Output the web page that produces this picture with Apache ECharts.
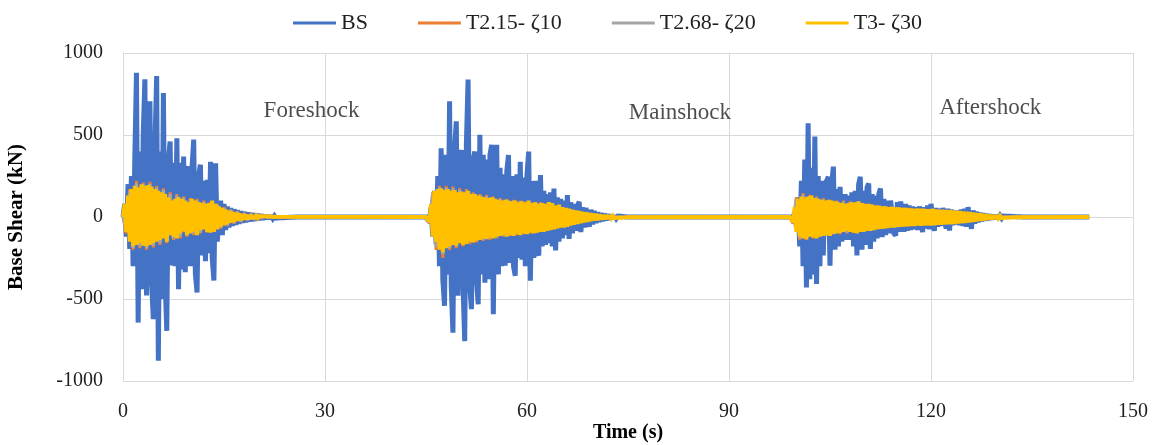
<!DOCTYPE html>
<html><head><meta charset="utf-8">
<script src="https://cdn.jsdelivr.net/npm/echarts@6/dist/echarts.min.js"></script>
<style>html,body{margin:0;padding:0;background:#fff}#c{width:1159px;height:445px}</style>
</head><body><div id="c"></div>
<script>
// ---- data (kN), sampled in time segments ----
const seriesNames = ['BS', 'T2.15- ζ10', 'T2.68- ζ20', 'T3- ζ30'];
const segStart = [0, 45, 99];      // s, start of foreshock / mainshock / aftershock records
const endTime = 143.5;             // s, end of record
const dtFine = 0.25;               // s, BS and T3 sampling
const dtCoarse = 0.5;              // s, T2.15 and T2.68 sampling

const bsFore = [0,80,-120,200,-194,250,-300,350, 879,-644,400,-440,500,840,-479,450,
  705,-400,-623,450,859,-877,400,-500, 756,-380,-694,350,460,-296,330,-300,
  480,-440,330,-320,368,-337,280,307, -300,300,472,-350,-460,260,319,-235,
  220,-270,227,-220,337,-250,-387,327, -150,-160,100,-110,80,-80,65,-65,
  55,-55,48,-48,42,-42,36,-36, 32,-32,28,-28,25,-25,22,-22,
  19,-19,16,-16,13,-13,11,-11, 9,-9,7,-7,5,-5,4,-4, 3,-3,2,-2,1,-1,0,0,0];
const bsMain = [0,10,-30,60,-120,160,-164,250, -300,419,-380,-541,380,-350,705,-420,
  -706,420,583,-480,350,409,-420,-757, 450,838,-420,-562,350,399,-380,-532,
  501,-350,380,-400,350,-380,380,440, -593,320,440,-350,300,-300,260,-297,
  280,378,-280,250,-300,-358,260,-250, 337,-260,240,-300,260,399,-389,220,
  -250,220,-210,-235,256,-180,160,-170, 140,-160,150,-180,174,-204,120,-150,
  110,-130,100,-110,133,-133,90,-100, 80,-85,70,92,-92,60,-65,55,
  60,-60,45,-45,38,-38,30,-30, 25,-25,20,-20,16,-16,12,-12, 9,-9,6,-6,4,-4,2,-2,0];
const bsAfter = [0,5,-10,30,-60,120,-180,220, -300,350,-429,572,-380,300,-350,491,
  -409,250,-300,220,-235,200,220,245, -297,200,307,-200,170,-180,184,-150,
  -153,140,-140,130,-140,150,-180,160, -235,200,245,-200,160,-170,180,204,
  -194,140,-150,130,-130,140,174,-123, 110,-110,100,-100,100,112,-100,-113,
  90,-90,95,102,-90,80,-85,70, -80,65,-75,60,-80,65,72,-92,
  60,-70,70,-75,80,92,-85,55, -60,50,-55,55,61,-70,50,-82,
  45,-50,40,-45,40,-50,45,-55, 50,-60,60,72,-72,40,-40,32,
  -32,26,-26,22,-22,18,-18,15, -15,12,-12,10,-10,8,-8,6,
  -6,5,-5,4,-4,3,-3,2, -2,1,-1,0];

const t3Fore = [0,80,-90,130,-150,170,-180,190, -170,180,-160,200,-175,190,-180,195,
  -170,185,-160,170,-150,160,-140,150, -130,140,-150,120,-110,100,-120,110,
  -130,120,-100,110,-90,100,-110,90, -100,110,-90,100,-110,90,-80,85,
  -75,80,-90,85,-95,100,-90,80, -75,65,-60,55,-50,46,-42,38,
  -35,32,-29,26,-24,22,-20,18, -16,14,-13,12,-11,10,-9,8,
  -7,6,-5,5,-4,4,-3,3, -2,2,-1,1,0];
const t3Main = [0,5,-30,80,-120,160,-150,170, -200,175,-215,165,-190,170,-180,160,
  -170,165,-175,150,-160,155,-170,150, -165,160,-150,140,-155,140,-145,130,
  -140,125,-130,120,-135,115,-125,120, -130,110,-120,105,-115,100,-110,105,
  -120,100,-110,95,-115,100,-105,90, -110,95,-100,90,-105,100,-95,85,
  -100,90,-95,80,-90,85,-90,80, -85,90,-80,85,-75,70,-70,75,
  -65,60,-65,55,-60,50,-52,45, -47,40,-42,36,-38,32,-33,28,
  -29,25,-25,22,-22,19,-19,16, -16,13,-13,11,-11,9,-9,7,
  -7,5,-5,4,-4,3,-3,2,-1,0];
const t3After = [0,10,-30,60,-90,110,-120,125, -130,120,-135,125,-120,130,-125,115,
  -130,110,-120,105,-115,100,-110,105, -115,100,-105,95,-100,90,-95,85,
  -90,80,-85,85,-90,90,-95,90, -100,95,-90,85,-90,80,-85,80,
  -85,75,-80,70,-75,70,-72,65, -70,65,-68,60,-65,62,-65,58,
  -62,58,-60,55,-58,55,-57,52, -55,50,-55,50,-52,50,-54,50,
  -52,48,-50,48,-52,50,-50,46, -48,45,-47,44,-46,43,-45,42,
  -44,40,-42,38,-40,36,-38,34, -36,32,-33,30,-31,27,-28,24,
  -25,21,-22,18,-19,16,-16,13, -14,11,-11,9,-9,7,-7,5,
  -5,4,-4,3,-3,2,-2,1,-1,0];

const t215Fore = [0,-100,170,-200,220,-190,210,-200,215,-185,190,-170,175,-160,150,-140,
  140,-130,125,-120,115,-110,110,-100,100,-95,90,-85,80,-70,60,-55,
  45,-40,35,-30,25,-20,16,-12,9,-6,4,-2,1,0];
const t215Main = [0,-40,150,-200,190,-250,190,-200,185,-190,175,-180,170,-165,150,-155,
  140,-145,135,-140,125,-130,115,-120,110,-115,105,-110,100,-105,95,-100,
  90,-95,90,-85,80,-75,70,-65,58,-52,45,-40,35,-30,25,-20,16,-12,9,-6,4,-2,1,0];
const t215After = [0,-40,120,-140,145,-140,135,-130,125,-120,115,-110,105,-100,100,-105,
  100,-100,95,-95,88,-85,80,-78,75,-72,70,-68,66,-64,62,-60,
  60,-58,56,-55,54,-52,52,-50,50,-48,46,-44,42,-40,38,-35,
  32,-28,25,-21,18,-15,12,-9,7,-5,3,-2,1,0];

const t268Fore = [0,-90,160,-190,205,-180,200,-190,200,-175,180,-160,165,-150,140,-130,
  130,-120,118,-112,108,-102,100,-95,92,-88,82,-78,72,-64,55,-50,
  42,-36,31,-27,22,-18,14,-11,8,-5,3,-2,1,0];
const t268Main = [0,-35,140,-185,180,-225,180,-190,175,-180,165,-170,160,-155,142,-145,
  132,-138,128,-132,118,-124,110,-114,104,-108,100,-104,95,-100,90,-95,
  86,-90,85,-80,75,-70,65,-60,54,-48,42,-37,32,-27,22,-18,14,-10,8,-5,3,-2,1,0];
const t268After = [0,-35,110,-130,135,-132,128,-122,118,-112,108,-104,100,-96,95,-98,
  94,-95,90,-90,84,-80,76,-74,71,-68,66,-64,62,-60,58,-57,
  56,-55,53,-52,51,-50,49,-47,47,-45,43,-41,39,-37,35,-32,
  29,-26,23,-19,16,-13,10,-8,6,-4,2,-1,0];

const annotations = [
  ['Foreshock', 28.0, 645],
  ['Mainshock', 82.7, 633],
  ['Aftershock', 128.8, 663]
];

// ---- build series ----
function seg(t0, dt, vals) {
  return vals.map((v, i) => [+(t0 + i * dt).toFixed(3), v]);
}
function record(parts, dt) {
  let out = [];
  parts.forEach((p, k) => { out = out.concat(seg(segStart[k], dt, p)); });
  out.push([endTime, 0]);
  return out;
}
const dataBS = record([bsFore, bsMain, bsAfter], dtFine);
const data215 = record([t215Fore, t215Main, t215After], dtCoarse);
const data268 = record([t268Fore, t268Main, t268After], dtCoarse);
const data3 = record([t3Fore, t3Main, t3After], dtFine);

const colors = ['#4472C4', '#ED7D31', '#A5A5A5', '#FFC000'];
const FONT = 'Liberation Serif';
const txt = '#1f1f1f';

function lineSeries(name, data, color, width) {
  return {
    name, type: 'line', data, showSymbol: false, symbol: 'none',
    sampling: null, animation: false,
    lineStyle: { color, width, join: 'miter', miterLimit: 2 }, itemStyle: { color }
  };
}

const chart = echarts.init(document.getElementById('c'), null, { renderer: 'canvas' });
chart.setOption({
  animation: false,
  color: colors,
  textStyle: { fontFamily: FONT },
  grid: { left: 123, right: 26, top: 53, bottom: 64, containLabel: false, outerBoundsMode: 'none' },
  legend: {
    data: seriesNames,
    top: 7, left: 288,
    icon: 'rect', itemWidth: 43, itemHeight: 3, itemGap: 50,
    textStyle: { fontFamily: FONT, fontSize: 22, color: txt }
  },
  xAxis: {
    type: 'value', min: 0, max: 150, interval: 30,
    name: 'Time (s)', nameLocation: 'middle', nameGap: 42, nameMoveOverlap: false,
    nameTextStyle: { fontFamily: FONT, fontSize: 20, fontWeight: 'bold', color: '#000' },
    axisLine: { show: true, lineStyle: { color: '#d9d9d9', width: 1 } },
    axisTick: { show: false },
    axisLabel: { fontFamily: FONT, fontSize: 20, color: txt, margin: 21 },
    splitLine: { show: true, lineStyle: { color: '#d9d9d9', width: 1 } }
  },
  yAxis: {
    type: 'value', min: -1000, max: 1000, interval: 500,
    name: 'Base Shear (kN)', nameLocation: 'middle', nameGap: 96, nameRotate: 90, nameMoveOverlap: false,
    nameTextStyle: { fontFamily: FONT, fontSize: 21, fontWeight: 'bold', color: '#000' },
    axisLine: { show: true, lineStyle: { color: '#d9d9d9', width: 1 } },
    axisTick: { show: false },
    axisLabel: { fontFamily: FONT, fontSize: 20, color: txt, margin: 20, formatter: v => String(v) },
    splitLine: { show: true, lineStyle: { color: '#d9d9d9', width: 1 } }
  },
  series: [
    lineSeries(seriesNames[0], dataBS, colors[0], 5),
    lineSeries(seriesNames[1], data215, colors[1], 3),
    lineSeries(seriesNames[2], data268, colors[2], 3),
    lineSeries(seriesNames[3], data3, colors[3], 4),
    {
      name: 'annotations', type: 'scatter', silent: true, symbolSize: 0,
      data: annotations.map(a => [a[1], a[2], a[0]]),
      label: {
        show: true, position: 'inside', formatter: p => p.value[2],
        fontFamily: FONT, fontSize: 23, color: txt
      },
      z: 10
    }
  ]
});
</script></body></html>
